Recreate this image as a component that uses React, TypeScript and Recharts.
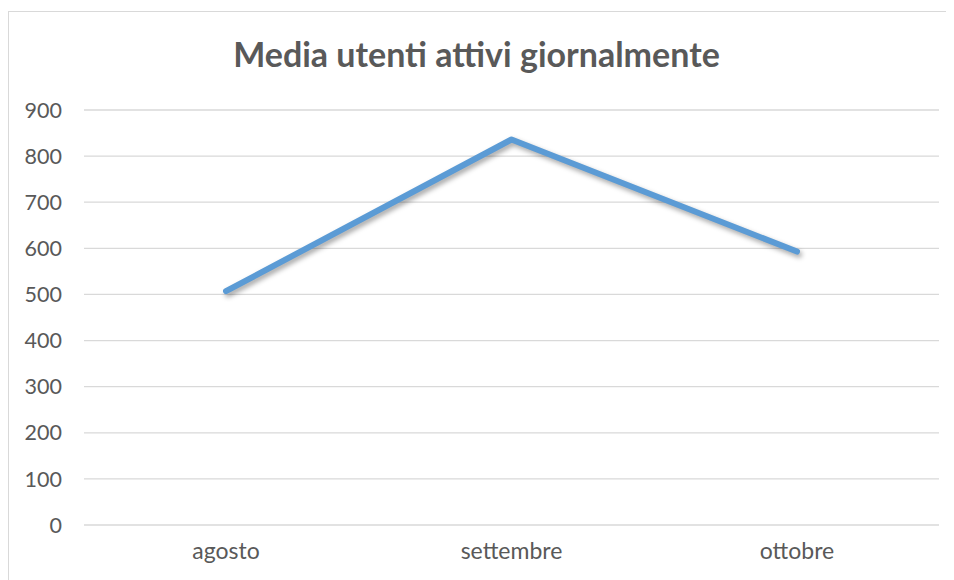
import React from 'react';
import { LineChart, Line, XAxis, YAxis, CartesianGrid } from 'recharts';

const categories = ['agosto', 'settembre', 'ottobre'];
const utenti = [507, 836, 593];
const yTicks = [0, 100, 200, 300, 400, 500, 600, 700, 800, 900];
const title = 'Media utenti attivi giornalmente';

const data = categories.map((c, i) => ({ mese: c, utenti: utenti[i] }));

const FONT = 'Lato, "Open Sans", sans-serif';
const TEXT = '#595959';

export default function App() {
  return (
    <div style={{ paddingTop: 3 }}>
      <style>{`.recharts-line-curve { filter: drop-shadow(2px 3px 2.5px rgba(0,0,0,0.35)); }`}</style>
      <div
        style={{
          position: 'relative',
          width: 946,
          height: 580,
          boxSizing: 'border-box',
          border: '1px solid #d9d9d9',
          background: '#fff',
          overflow: 'hidden',
        }}
      >
        <svg width={944} height={80} style={{ position: 'absolute', left: 0, top: 0 }}>
          <text
            x={467.5}
            y={55}
            textAnchor="middle"
            fontFamily={FONT}
            fontWeight={700}
            fontSize={34}
            fill={TEXT}
          >
            {title}
          </text>
        </svg>
        <div style={{ position: 'absolute', left: 0, top: 0 }}>
          <LineChart
            width={944}
            height={568}
            data={data}
            margin={{ top: 98, right: 14, bottom: 0, left: 0 }}
          >
            <CartesianGrid vertical={false} stroke="#d9d9d9" strokeWidth={1.3} />
            <XAxis
              dataKey="mese"
              axisLine={false}
              tickLine={false}
              tickSize={0}
              tickMargin={18}
              height={55}
              padding={{ left: 142, right: 142 }}
              tick={{ fill: TEXT, fontSize: 23, fontFamily: FONT }}
            />
            <YAxis
              domain={[0, 900]}
              ticks={yTicks}
              axisLine={false}
              tickLine={false}
              tickSize={0}
              tickMargin={22}
              width={75}
              interval={0}
              tick={{ fill: TEXT, fontSize: 21.5, fontFamily: FONT }}
            />
            <Line
              type="linear"
              dataKey="utenti"
              stroke="#5b9bd5"
              strokeWidth={6}
              strokeLinecap="round"
              strokeLinejoin="round"
              dot={false}
              activeDot={false}
              isAnimationActive={false}
            />
          </LineChart>
        </div>
      </div>
    </div>
  );
}
